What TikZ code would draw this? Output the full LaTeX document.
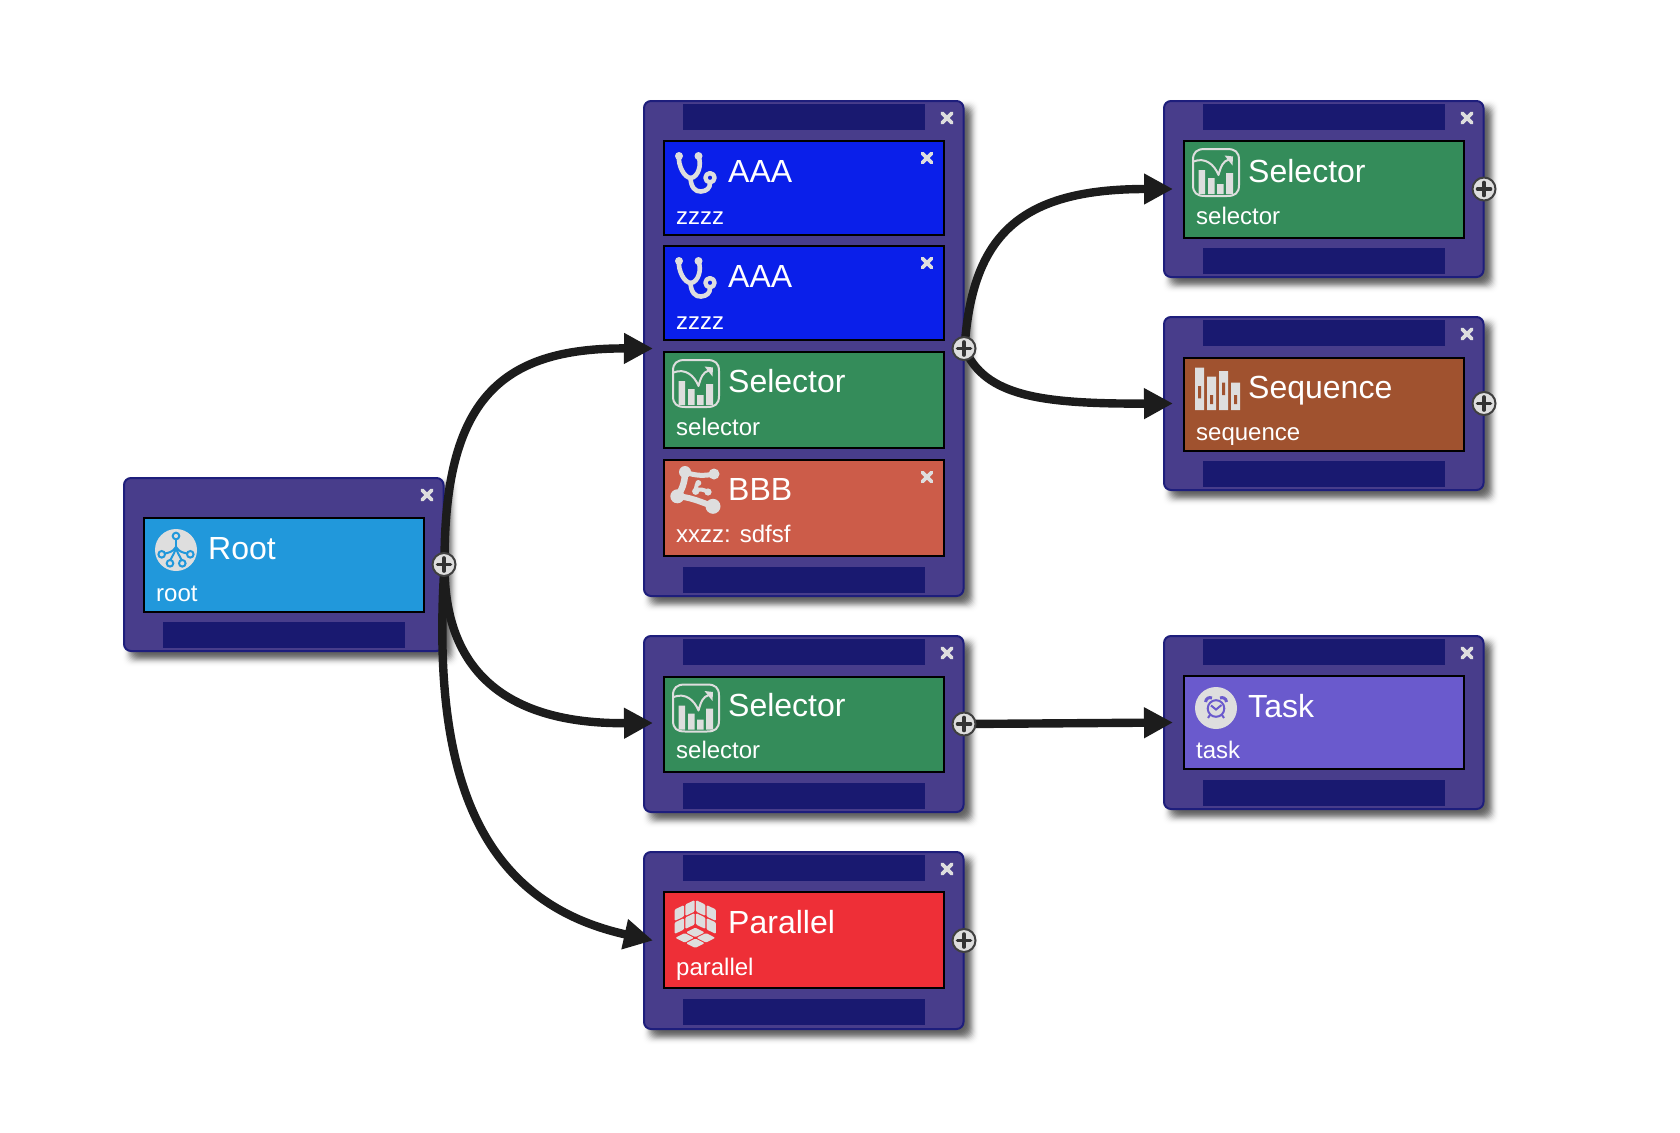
\documentclass[tikz,border=0pt]{standalone}
\usepackage{fontspec}
\setmainfont{Liberation Sans}
\usetikzlibrary{arrows.meta}
\definecolor{panelfill}{HTML}{483D8B}
\definecolor{paneledge}{HTML}{1E1E7C}
\definecolor{barfill}{HTML}{191970}
\definecolor{iconlight}{HTML}{DEDEDE}
\definecolor{edgeink}{HTML}{1C1C1C}
\definecolor{rootcol}{HTML}{2198DB}
\definecolor{aaacol}{HTML}{0A1FEA}
\definecolor{selcol}{HTML}{348C5A}
\definecolor{bbbcol}{HTML}{CC5C49}
\definecolor{seqcol}{HTML}{A0522F}
\definecolor{parcol}{HTML}{EE2F37}
\definecolor{taskcol}{HTML}{6A5ACD}
\tikzset{
  panelstyle/.style={draw=paneledge,fill=panelfill,line width=2pt,rounded corners=7pt,minimum width=319.5pt,inner sep=0pt},
  barstyle/.style={fill=barfill,minimum width=242pt,minimum height=25.5pt,inner sep=0pt,outer sep=0pt},
  cardstyle/.style={draw=black,line width=2pt,minimum width=280pt,inner sep=0pt},
  titletext/.style={anchor=base west,inner sep=0pt,text=white,font=\fontsize{32}{36}\selectfont},
  subtext/.style={anchor=base west,inner sep=0pt,text=white,font=\fontsize{24}{28}\selectfont},
  connector/.style={draw=edgeink,line width=8.4pt,-{Triangle[length=29pt,width=29pt]}},
  plusnode/.style={circle,draw=black!75,fill=iconlight,line width=2pt,minimum size=23pt,inner sep=0pt},
  plusbar/.style={draw=black!80,line width=3.6pt,line cap=round},
  closebar/.style={draw=iconlight,line cap=round},
  iconline/.style={draw=iconlight,line cap=round,line join=round}
}
\newcommand{\softshade}[3]{\foreach \d in {-9,...,9}{\pgfmathsetmacro{\op}{0.11*exp(-(\d*\d)/25)}\fill[black,opacity=\op,rounded corners=8pt] ({#1+8-\d},{#2+8-\d}) rectangle ({#1+321.5+6+\d},{#3+1+6+\d});}}
\newcommand{\panelbox}[4]{\softshade{#2}{#3}{#4}\node[panelstyle,minimum height={#4-#3-1}] (#1) at ({#2+160.75},{(#3+#4+1)/2}) {};}
\newcommand{\barbox}[3]{\node[barstyle] (#1) at ({#2+160.5},{#3+12.75}) {};}
\newcommand{\cardbox}[5]{\node[cardstyle,fill=#5,minimum height={#4-#3-1}] (#1) at ({#2+161},{(#3+#4+1)/2}) {};}
\newcommand{\cardtext}[6]{\node[titletext] (#1t) at ({#2+85},#3) {#4};\node[subtext] (#1s) at ({#2+33},#5) {#6};}
\newcommand{\closemark}[3]{\draw[closebar,line width=#3*0.8pt] ({#1-#3},{#2-#3}) -- ({#1+#3},{#2+#3}) ({#1-#3},{#2+#3}) -- ({#1+#3},{#2-#3});}
\newcommand{\plusat}[2]{\node[plusnode] (#1) at ([xshift=-0.5pt]#2.east) {};\draw[plusbar] ([xshift=-6.5pt]#1.center) -- ([xshift=6.5pt]#1.center) ([yshift=-6.5pt]#1.center) -- ([yshift=6.5pt]#1.center);}
\newcommand{\stetho}[2]{\begin{scope}[shift={(#1,#2)}]
 \draw[iconline,line width=4.6pt] (4,4.5) .. controls (3,13) and (9,26) .. (16,26) .. controls (23,25) and (27,13) .. (23.5,4.5);
 \draw[iconline,line width=4.6pt] (15.5,26) .. controls (16,35) and (20,40) .. (26,39.5) .. controls (32,39) and (35,36) .. (35,31);
 \fill[iconlight] (4,4) circle[radius=4] (23.5,4) circle[radius=4];
 \draw[iconline,line width=4.4pt] (35,25.7) circle[radius=4.6];
\end{scope}}
\newcommand{\selicon}[2]{\begin{scope}[shift={(#1,#2)}]
 \draw[iconline,line width=2pt] (8,16) .. controls (8,8) and (12,5) .. (20,5) -- (42,5) .. controls (50,5) and (54,8) .. (54,16) -- (54,41) .. controls (54,49) and (50,52) .. (42,52) -- (20,52) .. controls (12,52) and (8,49) .. (8,41) -- cycle;
 \fill[iconlight] (13.5,26) rectangle (20,50) (23,34) rectangle (29.5,50) (32,40) rectangle (38.5,50) (41,29) rectangle (48,50);
 \draw[iconline,line width=2pt] (8.5,17.5) .. controls (20,13) and (29,20) .. (33.5,31) .. controls (36,22) and (38,17) .. (44,15.5);
 \fill[iconlight] (39.5,11.5) -- (48,12.5) -- (47.5,21.5) -- cycle;
\end{scope}}
\newcommand{\cubeface}[6]{\foreach \i in {0,1}{\foreach \j in {0,1}{
 \pgfmathsetmacro{\aa}{(\i+.06)/2}\pgfmathsetmacro{\bb}{(\i+.94)/2}\pgfmathsetmacro{\cc}{(\j+.06)/2}\pgfmathsetmacro{\dd}{(\j+.94)/2}
 \fill[iconlight,rounded corners=1.2pt] ({#1+\aa*(#3)+\cc*(#5)},{#2+\aa*(#4)+\cc*(#6)}) -- ({#1+\bb*(#3)+\cc*(#5)},{#2+\bb*(#4)+\cc*(#6)}) -- ({#1+\bb*(#3)+\dd*(#5)},{#2+\bb*(#4)+\dd*(#6)}) -- ({#1+\aa*(#3)+\dd*(#5)},{#2+\aa*(#4)+\dd*(#6)}) -- cycle;
}}}
\begin{document}
\begin{tikzpicture}[x=1pt,y=-1pt]
\useasboundingbox (0,0) rectangle (1680,1132);
% panels
\panelbox{rootp}{123}{477}{651}
\panelbox{pa}{643}{100}{596}
\panelbox{pr}{1163}{100}{277}
\panelbox{pq}{1163}{316}{490}
\panelbox{pb}{643}{635}{812}
\panelbox{pc}{643}{851}{1029}
\panelbox{pt}{1163}{635}{809}
% bars
\barbox{rootbar}{123}{622}
\barbox{pab1}{643}{104}\barbox{pab2}{643}{567}
\barbox{prb1}{1163}{104}\barbox{prb2}{1163}{248}
\barbox{pqb1}{1163}{320}\barbox{pqb2}{1163}{461}
\barbox{pbb1}{643}{639}\barbox{pbb2}{643}{783}
\barbox{pcb1}{643}{855}\barbox{pcb2}{643}{999}
\barbox{ptb1}{1163}{639}\barbox{ptb2}{1163}{780}
% cards
\cardbox{croot}{123}{517}{612}{rootcol}
\cardbox{ca1}{643}{140}{235}{aaacol}
\cardbox{ca2}{643}{245}{340}{aaacol}
\cardbox{ca3}{643}{351}{448}{selcol}
\cardbox{ca4}{643}{459}{556}{bbbcol}
\cardbox{cr}{1163}{140}{237.5}{selcol}
\cardbox{cq}{1163}{357}{451}{seqcol}
\cardbox{cb}{643}{675.5}{771.7}{selcol}
\cardbox{cc}{643}{891}{988}{parcol}
\cardbox{ct}{1163}{675}{769}{taskcol}
% texts
\cardtext{croot}{123}{559.7}{Root}{601}{root}
\cardtext{ca1}{643}{182}{AAA}{224}{zzzz}
\cardtext{ca2}{643}{287}{AAA}{329}{zzzz}
\cardtext{ca3}{643}{392.7}{Selector}{435}{selector}
\cardtext{ca4}{643}{500}{BBB}{542.7}{xxzz: sdfsf}
\cardtext{cr}{1163}{182.7}{Selector}{224}{selector}
\cardtext{cq}{1163}{398.7}{Sequence}{440}{sequence}
\cardtext{cb}{643}{716.7}{Selector}{758.7}{selector}
\cardtext{cc}{643}{933.7}{Parallel}{975}{parallel}
\cardtext{ct}{1163}{717}{Task}{758.7}{task}
% close marks
\closemark{427}{495}{4.8}
\closemark{947}{118}{4.8}
\closemark{1467}{118}{4.8}
\closemark{1467}{334}{4.8}
\closemark{947}{653}{4.8}
\closemark{947}{869}{4.8}
\closemark{1467}{653}{4.8}
\closemark{927}{158}{4.5}
\closemark{927}{263}{4.5}
\closemark{927}{477}{4.5}
% icons: root
\fill[iconlight] (176,550) circle[radius=21];
\begin{scope}[draw=rootcol,line width=2pt]
 \draw (176,539) -- (176,550);
 \draw (176,547) .. controls (173,552) and (168,553) .. (164.5,553.5);
 \draw (176,547) .. controls (179,552) and (184,553) .. (187.5,553.5);
 \draw (176,547) .. controls (175,553) and (172,556) .. (170.5,560);
 \draw (176,547) .. controls (177,553) and (180,556) .. (181.5,560);
 \draw[fill=iconlight] (176,536) circle[radius=3.3];
 \draw[fill=iconlight] (161.7,554.3) circle[radius=3.3];
 \draw[fill=iconlight] (190.3,554.3) circle[radius=3.3];
 \draw[fill=iconlight] (170,563.3) circle[radius=3.3];
 \draw[fill=iconlight] (182.3,563.3) circle[radius=3.3];
\end{scope}
% icons: stethoscopes
\stetho{675}{152}
\stetho{675}{257}
% icons: selector
\selicon{665}{355}
\selicon{1185}{144}
\selicon{665}{679.5}
% icon: BBB
\begin{scope}[shift={(665,462)}]
 \fill[iconlight] (20,10) circle[radius=6] (49,12) circle[radius=5.5] (12.3,34.3) circle[radius=7] (48,44.3) circle[radius=7.5];
 \draw[iconline,line width=5pt] (20,10) .. controls (30,14) and (40,14) .. (49,12);
 \draw[iconline,line width=6.5pt] (20,10) .. controls (20,20) and (17,28) .. (12.3,34.3);
 \draw[iconline,line width=6pt] (12.3,34.3) .. controls (25,35) and (36,40) .. (48,44.3);
 \draw[iconline,line width=4pt] (33.3,21) .. controls (30,24) and (32,26) .. (30.7,29.3) .. controls (34,26) and (40,28) .. (43,30);
 \fill[iconlight] (33.3,21) circle[radius=3] (30.7,29.3) circle[radius=3.6] (43,30) circle[radius=3.6];
\end{scope}
% icon: Sequence
\fill[iconlight] (1195,367.7) rectangle (1204,410) (1207,376.7) rectangle (1216,410) (1219,371) rectangle (1228,410) (1231,382.7) rectangle (1240,410);
\fill[seqcol] (1198,386) rectangle (1201,398.3) (1210,395) rectangle (1213,404) (1222,382.7) rectangle (1225,395) (1234,395) rectangle (1237,404);
% icon: Parallel
\begin{scope}[shift={(665,895)}]
 \cubeface{30.3}{30}{0}{-26}{-21.3}{10}
 \cubeface{30.3}{30}{0}{-26}{21.3}{10}
 \cubeface{30.3}{32}{-21.3}{10.8}{21.3}{10.8}
\end{scope}
% icon: Task
\fill[iconlight] (1216,708) circle[radius=21];
\begin{scope}[draw=taskcol,line width=2pt]
 \draw (1216,708.5) circle[radius=8.3];
 \draw (1211,705.5) -- (1216,709.5) -- (1221.5,705);
 \draw[line width=3pt] (1205.5,702) .. controls (1206,698) and (1209,697) .. (1212,698);
 \draw[line width=3pt] (1226.5,702) .. controls (1226,698) and (1223,697) .. (1220,698);
 \draw (1210,715) -- (1208,718);
 \draw (1222,715) -- (1224,718);
\end{scope}
% connectors
\coordinate (ina) at ([xshift=10pt]pa.west);
\coordinate (inb) at ([xshift=10pt,yshift=1pt]pb.west);
\coordinate (inc) at ([xshift=10pt]pc.west);
\coordinate (inr) at ([xshift=10pt]pr.west);
\coordinate (inq) at ([xshift=10pt]pq.west);
\coordinate (int) at ([xshift=10pt]pt.west);
\draw[connector] (rootp.east) .. controls (444,400) and (500,348) .. (ina);
\draw[connector] (rootp.east) .. controls (444,670) and (505,724) .. (inb);
\draw[connector] (rootp.east) .. controls (432,760) and (470,900) .. (inc);
\draw[connector] (pa.east) .. controls (972,235) and (1020,189) .. (inr);
\draw[connector] (pa.east) .. controls (985,396) and (1040,404) .. (inq);
\draw[connector] (pb.east) -- (int);
% plus buttons
\plusat{prootp}{rootp}
\plusat{ppa}{pa}
\plusat{ppr}{pr}
\plusat{ppq}{pq}
\plusat{ppb}{pb}
\plusat{ppc}{pc}
\end{tikzpicture}
\end{document}
